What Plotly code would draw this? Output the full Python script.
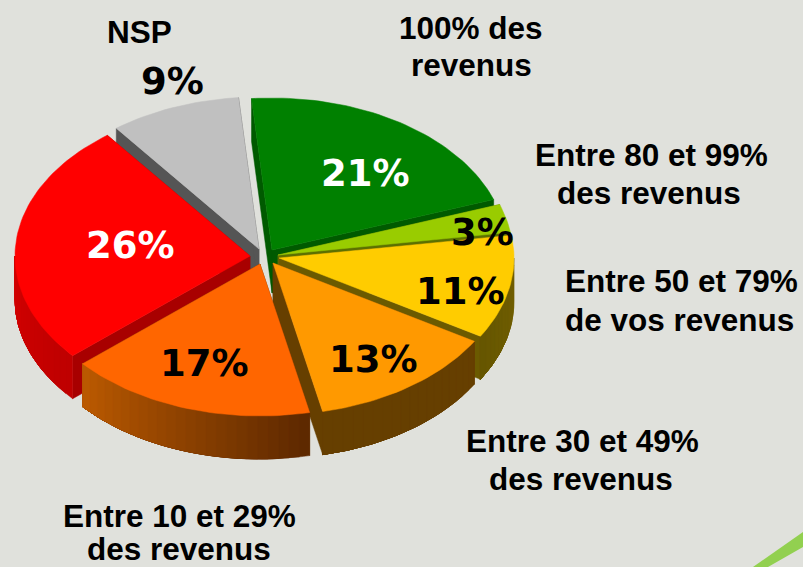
import math
import plotly.graph_objects as go

# ---- data ----
category_lines = [["100% des", "revenus"], ["Entre 80 et 99%", "des revenus"], ["Entre 50 et 79%", "de vos revenus"],
                  ["Entre 30 et 49%", "des revenus"], ["Entre 10 et 29%", "des revenus"], ["NSP"]]
values = [21, 3, 11, 13, 17, 26, 9]

# ---- styling ----
BG = "#E0E1DC"
top_colors = ["#008000", "#99CC00", "#FFCC00", "#FF9900", "#FF6600", "#FF0000", "#C0C0C0"]
side_colors = ["#005A00", "#5C7000", "#6B5A00", "#663F00", "#663300", "#A80000", "#555555"]
arc_from = ["#005A00", "#5C7000", "#726000", "#663F00", "#5C2800", "#BE0000", "#555555"]
arc_to = ["#005A00", "#5C7000", "#665600", "#663F00", "#BC5A00", "#D40000", "#555555"]
tips = [(272, 250), (278, 255), (279, 258), (273, 263), (260, 264), (250, 256), (259, 249)]
label_colors = ["white", "black", "black", "black", "black", "white", "black"]
label_pos = [(365, 173), (482, 232), (460, 291), (373, 359), (204, 363), (130, 245), (172, 81)]
cat_pos = [[(471, 28), (471, 65)], [(651, 155), (649, 193)], [(681, 281), (679, 320)],
           [(582, 441), (581, 479)], [(179, 516), (179, 549)], [(139, 32)]]
RX, RY, DEPTH, START = 235, 152, 43, -5
draw_order = [6, 0, 1, 2, 5, 3, 4]

def hexrgb(h):
    return tuple(int(h[i:i + 2], 16) for i in (1, 3, 5))

def mix(a, b, f):
    ca, cb = hexrgb(a), hexrgb(b)
    return "rgb(%d,%d,%d)" % tuple(round(x + (y - x) * f) for x, y in zip(ca, cb))

def pt(tip, t):
    r = math.radians(t)
    return tip[0] + RX * math.sin(r), tip[1] - RY * math.cos(r)

fig = go.Figure()

def poly(points, color):
    xs = [p[0] for p in points] + [points[0][0]]
    ys = [p[1] for p in points] + [points[0][1]]
    fig.add_trace(go.Scatter(x=xs, y=ys, mode="lines", fill="toself", fillcolor=color,
                             line=dict(color=color, width=0.5), hoverinfo="skip", showlegend=False))

total = sum(values)
bounds = []
a = START
for v in values:
    bounds.append((a, a + v / total * 360))
    a += v / total * 360

for i in draw_order:
    t0, t1 = bounds[i]
    tip = tips[i]
    p0, p1 = pt(tip, t0), pt(tip, t1)
    # radial walls
    for p in (p0, p1):
        poly([tip, p, (p[0], p[1] + DEPTH), (tip[0], tip[1] + DEPTH)], side_colors[i])
    # outer wall, only where it faces the viewer; each band overlaps the next to avoid seams
    lo, hi = max(t0, 90), min(t1, 270)
    if hi > lo:
        n = max(2, int((hi - lo) / 2.5))
        for k in range(n):
            a0 = lo + (hi - lo) * k / n
            a1 = hi
            mids = [a0 + (a1 - a0) * j / 40 for j in range(41)]
            upper = [pt(tip, m) for m in mids]
            lower = [(q[0], q[1] + DEPTH) for q in reversed(upper)]
            poly(upper + lower, mix(arc_from[i], arc_to[i], (k + 0.5) / n))
    # top face
    n = max(4, int((t1 - t0) / 1.5))
    poly([tip] + [pt(tip, t0 + (t1 - t0) * k / n) for k in range(n + 1)], top_colors[i])

annotations = []
for v, pos, col in zip(values, label_pos, label_colors):
    annotations.append(dict(x=pos[0], y=pos[1], text=f"{v}%", showarrow=False, xref="x", yref="y",
                            font=dict(family="DejaVu Sans", size=37, color=col, weight="bold"),
                            xanchor="center", yanchor="middle"))
for lines, positions in zip(category_lines, cat_pos):
    for c, pos in zip(lines, positions):
        annotations.append(dict(x=pos[0], y=pos[1], text=f"<b>{c}</b>", showarrow=False, xref="x", yref="y",
                                font=dict(family="Liberation Sans", size=31.5, color="black"),
                                xanchor="center", yanchor="middle"))

fig.update_layout(
    width=803, height=567, margin=dict(l=0, r=0, t=0, b=0),
    paper_bgcolor=BG, plot_bgcolor=BG, showlegend=False,
    xaxis=dict(range=[0, 803], visible=False, fixedrange=True),
    yaxis=dict(range=[567, 0], visible=False, fixedrange=True),
    annotations=annotations,
    shapes=[dict(type="path", xref="x", yref="y", layer="below", line=dict(width=0),
                 fillcolor="#92D050", path="M 753 567 L 803 532 L 803 547 L 768 567 Z")],
)
fig.write_html("out.html", config=dict(displayModeBar=False),
               post_script="document.body.style.margin='0';document.body.style.overflow='hidden';"
                           "document.documentElement.style.background='%s';" % BG)
